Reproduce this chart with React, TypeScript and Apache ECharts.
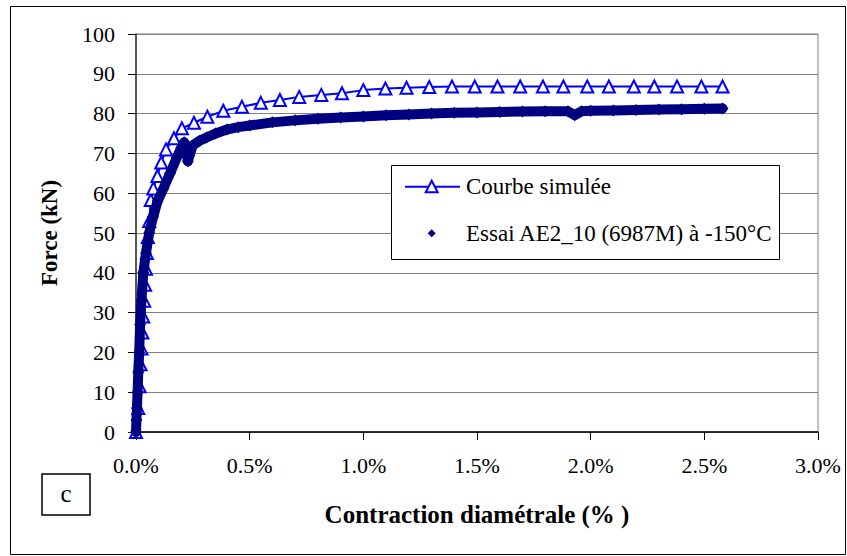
import React, { useEffect, useRef } from "react";
import * as echarts from "echarts";

const FONT = '"Liberation Serif", "Times New Roman", serif';

// Courbe simulée (x in %, y in kN)
const simX = [0, 0.010, 0.016, 0.020, 0.024, 0.028, 0.032, 0.036, 0.040, 0.044, 0.048, 0.052, 0.058, 0.065, 0.076, 0.094, 0.111, 0.132, 0.167, 0.202, 0.255, 0.314, 0.384, 0.466, 0.549, 0.633, 0.718, 0.815, 0.906, 1.0, 1.097, 1.19, 1.29, 1.39, 1.49, 1.59, 1.69, 1.79, 1.88, 1.985, 2.08, 2.19, 2.28, 2.38, 2.487, 2.58];
const simY = [0, 6, 11.5, 17, 21, 25, 29, 33, 37, 41, 45, 49, 53, 58.3, 61.2, 64.3, 67.7, 71.0, 73.8, 76.3, 77.7, 79.2, 80.7, 81.7, 82.7, 83.4, 84.2, 84.7, 85.1, 85.9, 86.3, 86.5, 86.7, 86.8, 86.8, 86.8, 86.8, 86.8, 86.8, 86.8, 86.8, 86.8, 86.8, 86.8, 86.8, 86.8];

// Essai AE2_10 (6987M) à -150°C
const expX = [0, 0.002, 0.004, 0.007, 0.010, 0.014, 0.018, 0.024, 0.032, 0.044, 0.058, 0.075, 0.095, 0.119, 0.15, 0.18, 0.2, 0.212, 0.222, 0.228, 0.235, 0.25, 0.28, 0.31, 0.35, 0.4, 0.45, 0.5, 0.6, 0.7, 0.8, 0.9, 1.0, 1.1, 1.2, 1.3, 1.4, 1.5, 1.6, 1.7, 1.8, 1.9, 1.93, 1.96, 2.0, 2.1, 2.2, 2.3, 2.4, 2.5, 2.58];
const expY = [0, 3, 6, 10, 15, 20, 27, 33, 40, 45, 50, 54, 58, 61, 65, 69, 71.5, 72.8, 71, 68, 69.5, 72, 73.2, 74, 75, 76, 76.6, 77, 77.8, 78.3, 78.7, 79, 79.3, 79.6, 79.8, 80, 80.2, 80.3, 80.4, 80.5, 80.6, 80.6, 79.6, 80.6, 80.7, 80.8, 80.9, 81.0, 81.1, 81.2, 81.3];

const seriesNames = ["Courbe simulée", "Essai AE2_10 (6987M) à -150°C"];
const xTitle = "Contraction diamétrale (% )";
const yTitle = "Force (kN)";
const panelLabel = "c";

export default function App() {
  const ref = useRef<HTMLDivElement>(null);
  useEffect(() => {
    if (!ref.current) return;
    const chart = echarts.init(ref.current, null, { renderer: "svg" });
    const simData = simX.map((x, i) => [x, simY[i]]);
    const expData = expX.map((x, i) => [x, expY[i]]);
    const lx = 391.5, ly = 165.5, lw = 388, lh = 94;
    const r1 = 186.7, r2 = 233.3, sx = 431.7;
    chart.setOption({
      animation: false,
      backgroundColor: "#ffffff",
      grid: {
        left: 136, right: 29, top: 34, bottom: 124,
        show: true, borderColor: "#808080", borderWidth: 1, backgroundColor: "transparent",
      },
      xAxis: {
        type: "value", min: 0, max: 3, interval: 0.5,
        name: xTitle, nameLocation: "middle", nameGap: 70,
        nameTextStyle: { fontFamily: FONT, fontSize: 25, fontWeight: "bold", color: "#000" },
        axisLine: { show: true, onZero: false, lineStyle: { color: "#000", width: 1.5 } },
        axisTick: { show: true, inside: false, length: 8, lineStyle: { color: "#000", width: 1 } },
        axisLabel: { margin: 22, fontFamily: FONT, fontSize: 22, color: "#000", formatter: (v: number) => v.toFixed(1) + "%" },
        splitLine: { show: false },
      },
      yAxis: {
        type: "value", min: 0, max: 100, interval: 10,
        name: yTitle, nameLocation: "middle", nameGap: 75, nameRotate: 90,
        nameTextStyle: { fontFamily: FONT, fontSize: 23, fontWeight: "bold", color: "#000" },
        axisLine: { show: true, onZero: false, lineStyle: { color: "#333", width: 1.5 } },
        axisTick: { show: true, inside: false, length: 8, lineStyle: { color: "#000", width: 1 } },
        axisLabel: { margin: 21, fontFamily: FONT, fontSize: 22, color: "#000" },
        splitLine: { show: true, lineStyle: { color: "#808080", width: 1 } },
      },
      series: [
        {
          name: seriesNames[0], type: "line", data: simData, z: 2,
          symbol: "triangle", symbolSize: 12, showSymbol: true,
          lineStyle: { color: "#0000ff", width: 2 },
          itemStyle: { color: "#ffffff", borderColor: "#0000ff", borderWidth: 2 },
        },
        {
          name: seriesNames[1], type: "line", data: expData, z: 3,
          symbol: "diamond", symbolSize: 12, showSymbol: true,
          lineStyle: { color: "#000080", width: 10, join: "round", cap: "round" },
          itemStyle: { color: "#000080" },
        },
      ],
      graphic: [
        { type: "rect", z: 100, shape: { x: 10.5, y: 6.5, width: 835, height: 548 }, style: { fill: "none", stroke: "#000", lineWidth: 1 } },
        { type: "rect", z: 100, shape: { x: 42, y: 474, width: 48, height: 41 }, style: { fill: "#fff", stroke: "#000", lineWidth: 1.5 } },
        { type: "text", z: 101, x: 66, y: 493, style: { text: panelLabel, font: `25px ${FONT}`, fill: "#000", align: "center", verticalAlign: "middle" } },
        { type: "rect", z: 100, shape: { x: lx, y: ly, width: lw, height: lh }, style: { fill: "#fff", stroke: "#000", lineWidth: 1 } },
        { type: "line", z: 101, shape: { x1: 405, y1: r1, x2: 460, y2: r1 }, style: { stroke: "#0000ff", lineWidth: 2 } },
        { type: "polygon", z: 102, shape: { points: [[sx, r1 - 6], [sx + 6, r1 + 5.5], [sx - 6, r1 + 5.5]] }, style: { fill: "#fff", stroke: "#0000ff", lineWidth: 2 } },
        { type: "text", z: 101, x: 466, y: r1, style: { text: seriesNames[0], font: `23px ${FONT}`, fill: "#000", align: "left", verticalAlign: "middle" } },
        { type: "polygon", z: 101, shape: { points: [[sx, r2 - 4], [sx + 4, r2], [sx, r2 + 4], [sx - 4, r2]] }, style: { fill: "#000080" } },
        { type: "text", z: 101, x: 466, y: r2, style: { text: seriesNames[1], font: `23px ${FONT}`, fill: "#000", align: "left", verticalAlign: "middle" } },
      ],
    });
    return () => chart.dispose();
  }, []);
  return <div ref={ref} style={{ position: "fixed", left: 0, top: 0, width: 847, height: 556 }} />;
}
